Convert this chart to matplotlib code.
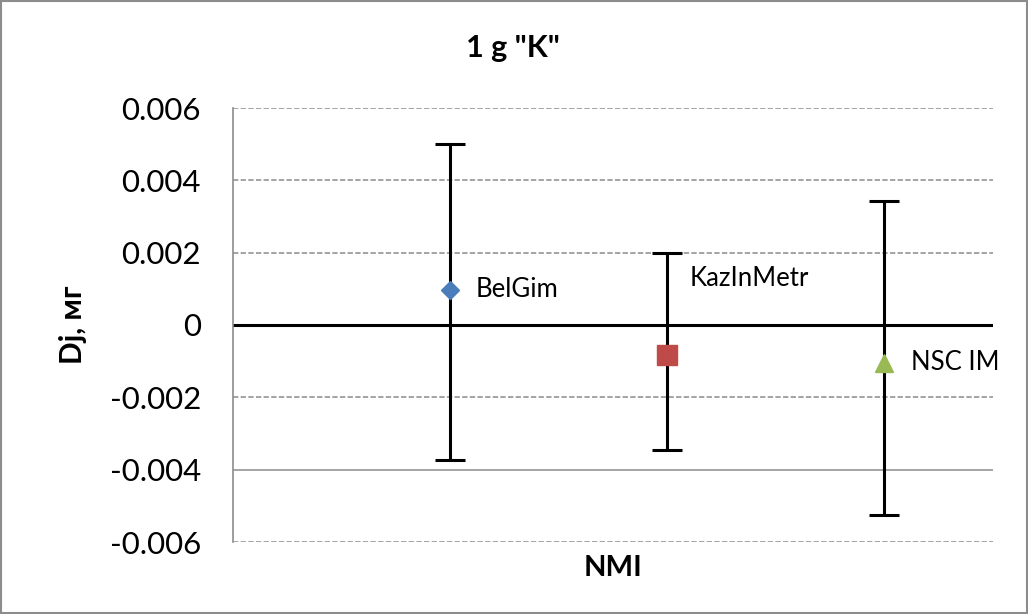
import numpy as np
import matplotlib
matplotlib.use("Agg")
import matplotlib.pyplot as plt
from matplotlib.patches import Rectangle

plt.rcParams['font.family'] = ['Lato', 'DejaVu Sans']

# data
labels = ['BelGim', 'KazInMetr', 'NSC IM']
x_pos = [1, 2, 3]
dj = [0.00097, -0.00083, -0.00105]
err_up = [0.00403, 0.00283, 0.00448]
err_down = [0.0047, 0.00263, 0.00421]
colors = ['#4a7ebb', '#be4b48', '#98b954']
markers = ['D', 's', '^']
marker_sizes = [9, 15, 13]

yticks = [-0.006, -0.004, -0.002, 0, 0.002, 0.004, 0.006]
ytick_labels = ['-0.006', '-0.004', '-0.002', '0', '0.002', '0.004', '0.006']

fig = plt.figure(figsize=(10.28, 6.14), dpi=100)
ax = fig.add_axes([233 / 1028, 1 - 542 / 614, 760 / 1028, 434 / 614])

# gridlines (dashed, except -0.004 which is solid in the original)
for y in yticks:
    if y == 0:
        continue
    ls = '-' if y == -0.004 else (0, (3.5, 1.5))
    ax.axhline(y, color='#8c8c8c', lw=1.1, ls=ls, zorder=1)

ax.axhline(0, color='black', lw=2.2, zorder=2)

for i in range(len(labels)):
    ax.errorbar(x_pos[i], dj[i], yerr=[[err_down[i]], [err_up[i]]], fmt='none',
                ecolor='black', elinewidth=2.2, capsize=11, capthick=2.2, zorder=3)
    ax.plot(x_pos[i], dj[i], marker=markers[i], color=colors[i], ms=marker_sizes[i],
            ls='none', zorder=4)

ax.annotate(labels[0], (x_pos[0], dj[0]), xytext=(18, 0), textcoords='offset points',
            fontsize=18.5, va='center', ha='left')
ax.annotate(labels[1], (x_pos[1], dj[1]), xytext=(16, 55), textcoords='offset points',
            fontsize=18.5, va='center', ha='left')
ax.annotate(labels[2], (x_pos[2], dj[2]), xytext=(19, 0), textcoords='offset points',
            fontsize=18.5, va='center', ha='left')

ax.set_xlim(0, 3.5)
ax.set_ylim(-0.006, 0.006)
ax.set_yticks(yticks)
ax.set_yticklabels(ytick_labels, fontsize=22.5)
ax.set_xticks([])
ax.tick_params(axis='y', length=0, pad=23)
for s in ['top', 'right', 'bottom']:
    ax.spines[s].set_visible(False)
ax.spines['left'].set_color('#8c8c8c')
ax.spines['left'].set_linewidth(1.2)

ax.set_ylabel('Dj, мг', fontsize=21.5, fontweight='bold', labelpad=16)
ax.set_xlabel('NMI', fontsize=21, fontweight='bold', labelpad=9)
fig.text(513 / 1028, 1 - 48 / 614, '1 g "K"', fontsize=22, fontweight='bold',
         ha='center', va='center')

fig.patches.append(Rectangle((0.001, 0.001), 0.998, 0.998, transform=fig.transFigure,
                             fill=False, edgecolor='#8c8c8c', lw=1.5))

fig.savefig('out.png', dpi=100)
